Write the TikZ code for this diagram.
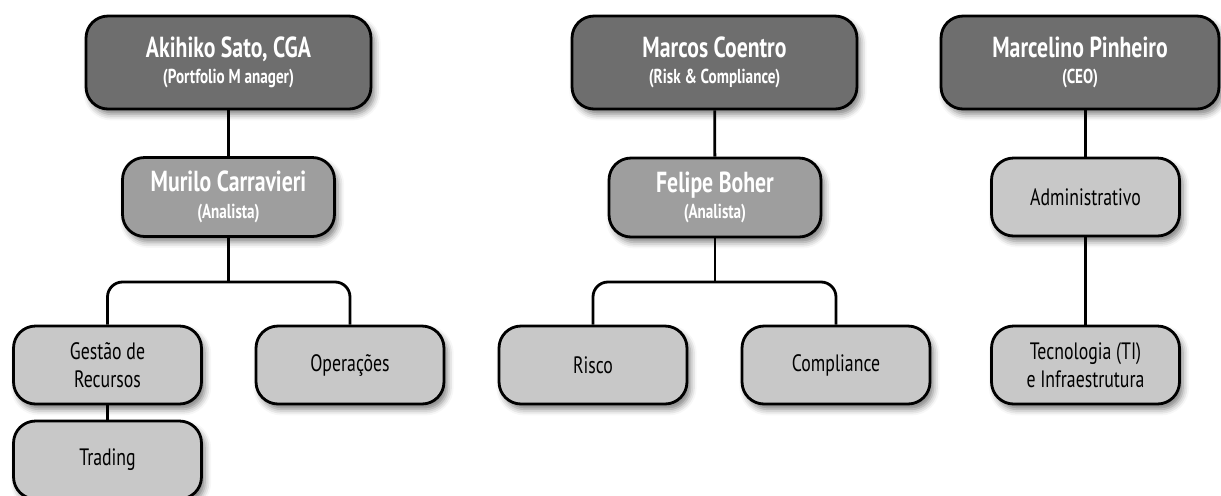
\documentclass[tikz,border=0pt]{standalone}
\usepackage{fontspec}
\setmainfont{PT Sans}[FakeStretch=0.75]
\usetikzlibrary{shadows.blur}
\definecolor{headgray}{HTML}{6E6E6E}
\definecolor{leadgray}{HTML}{9E9E9E}
\definecolor{unitgray}{HTML}{C8C8C8}
\tikzset{
	orgbox/.style={draw=black, line width=1.6pt, rounded corners=0.44cm, align=center,
		blur shadow={shadow xshift=2pt, shadow yshift=-3pt, shadow blur radius=3.5pt, shadow opacity=50}},
	headbox/.style={orgbox, fill=headgray, text=white, minimum width=5.7cm, minimum height=1.86cm},
	leadbox/.style={orgbox, fill=leadgray, text=white, minimum width=4.24cm, minimum height=1.58cm},
	unitbox/.style={orgbox, fill=unitgray, text=black, minimum width=3.76cm, minimum height=1.56cm,
		font=\fontsize{13.5}{16}\selectfont},
	link/.style={line width=1.6pt, rounded corners=0.3cm}
}
\newcommand{\orgname}[2]{{\fontsize{16.5}{17}\selectfont\bfseries #1}\\[3pt]{\fontsize{11.5}{13}\selectfont\bfseries (#2)}}

\begin{document}
\begin{tikzpicture}[x=0.02cm, y=-0.02cm]
			\clip (0,0) rectangle (1221,495);
			% first branch
			\node [headbox] (sato) at (228.5,62.5) {\orgname{Akihiko Sato, CGA}{Portfolio M anager}};
			\node [leadbox] (murilo) at (228.5,197) {\orgname{Murilo Carravieri}{Analista}};
			\node [unitbox] (gestao) at (107.5,365) {Gestão de\\Recursos};
			\node [unitbox] (trading) at (107.5,460) {Trading};
			\node [unitbox] (operacoes) at (350,365) {Operações};
			% second branch
			\node [headbox] (marcos) at (714.5,62.5) {\orgname{Marcos Coentro}{Risk \& Compliance}};
			\node [leadbox] (felipe) at (715,197.5) {\orgname{Felipe Boher}{Analista}};
			\node [unitbox] (risco) at (593,365) {Risco};
			\node [unitbox] (compliance) at (836,365) {Compliance};
			% third branch
			\node [headbox, minimum width=5.56cm] (marcelino) at (1080,62.5) {\orgname{Marcelino Pinheiro}{CEO}};
			\node [unitbox] (admin) at (1085.5,197) {Administrativo};
			\node [unitbox] (tecnologia) at (1085.5,365) {Tecnologia (TI)\\e Infraestrutura};
			% links
			\coordinate (murilobus) at (228.5,282);
			\coordinate (felipebus) at (715,282);
			\draw [link] (sato) -- (murilo);
			\draw [link] (murilo) -- (murilobus);
			\draw [link] (gestao.north) |- (murilobus) -| (operacoes.north);
			\draw [link] (gestao) -- (trading);
			\draw [link] (marcos) -- (felipe);
			\draw [link] (felipe) -- (felipebus);
			\draw [link] (risco.north) |- (felipebus) -| (compliance.north);
			\draw [link] (admin.north) -- (admin.north |- marcelino.south);
			\draw [link] (admin) -- (tecnologia);
		\end{tikzpicture}
\end{document}
